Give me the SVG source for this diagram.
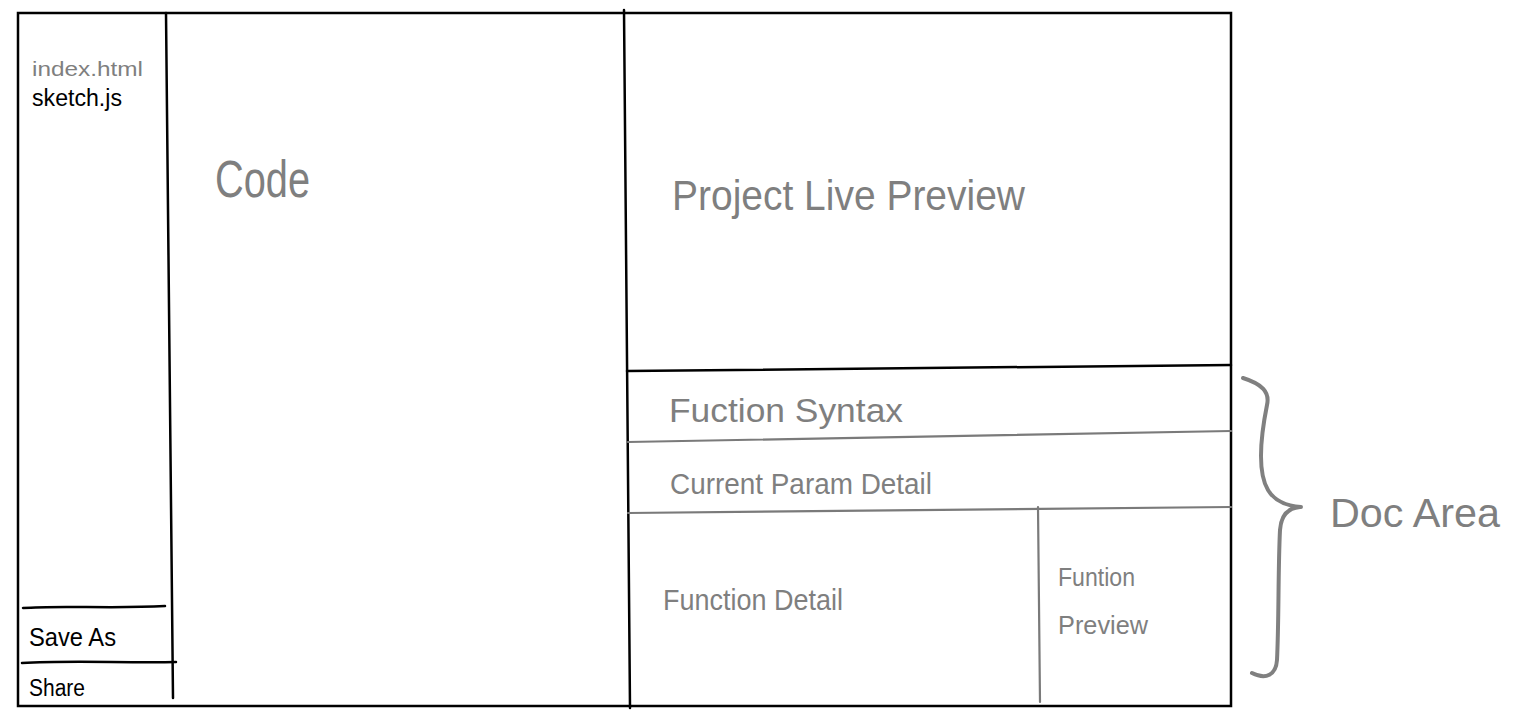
<svg xmlns="http://www.w3.org/2000/svg" width="1514" height="722" viewBox="0 0 1514 722">
<style>
.blk{stroke:#000;stroke-width:2.5;fill:none;stroke-linecap:round}
.gry{stroke:#7a7a7a;stroke-width:2.2;fill:none;stroke-linecap:round}
.brace{stroke:#808080;stroke-width:4;fill:none;stroke-linecap:round;stroke-linejoin:round}
text{font-family:"Liberation Sans","DejaVu Sans",sans-serif;fill:#7f7f7f}
.dark{fill:#000}
</style>
<rect width="1514" height="722" fill="#fff"/>
<g id="frame">
<rect x="18" y="13" width="1213" height="693" class="blk"/>
</g>
<g id="connectors">
<path class="blk" d="M166,13 L173,698"/>
<path class="blk" d="M624,10 L630,708"/>
<path class="blk" d="M627,371 L1231,365"/>
<path class="gry" d="M628,442 L1231,431"/>
<path class="gry" d="M628,513 L1231,507"/>
<path class="gry" d="M1038,507 L1040,702"/>
<path class="blk" d="M23,608 C60,605 110,609 165,606"/>
<path class="blk" d="M22,663 C70,660 120,663 176,662"/>
<path class="brace" d="M1243,378 C1262,384 1270,392 1267,405 C1262,430 1256,470 1268,490 C1274,500 1285,506 1301,507 M1300,507 C1288,508 1281,515 1280,530 C1278,570 1279,620 1277,660 C1276,675 1266,680 1252,673"/>
</g>
<g id="files">
<text x="32" y="76" font-size="21" textLength="111" lengthAdjust="spacingAndGlyphs">index.html</text>
<text x="32" y="106" font-size="23" class="dark" textLength="90" lengthAdjust="spacingAndGlyphs">sketch.js</text>
</g>
<g id="code">
<text x="215" y="197" font-size="52" textLength="95" lengthAdjust="spacingAndGlyphs">Code</text>
</g>
<g id="preview">
<text x="672" y="210" font-size="42" textLength="353" lengthAdjust="spacingAndGlyphs">Project Live Preview</text>
</g>
<g id="syntax">
<text x="669" y="422" font-size="33" textLength="234" lengthAdjust="spacingAndGlyphs">Fuction Syntax</text>
</g>
<g id="param">
<text x="670" y="494" font-size="29" textLength="262" lengthAdjust="spacingAndGlyphs">Current Param Detail</text>
</g>
<g id="detail">
<text x="663" y="610" font-size="30" textLength="180" lengthAdjust="spacingAndGlyphs">Function Detail</text>
</g>
<g id="fpreview">
<text x="1058" y="586" font-size="25" textLength="77" lengthAdjust="spacingAndGlyphs">Funtion</text>
<text x="1058" y="634" font-size="25" textLength="90" lengthAdjust="spacingAndGlyphs">Preview</text>
</g>
<g id="saveas">
<text x="29" y="646" font-size="25" class="dark" textLength="87" lengthAdjust="spacingAndGlyphs">Save As</text>
</g>
<g id="share">
<text x="29" y="696" font-size="23" class="dark" textLength="56" lengthAdjust="spacingAndGlyphs">Share</text>
</g>
<g id="docarea">
<text x="1330" y="527" font-size="40" textLength="170" lengthAdjust="spacingAndGlyphs">Doc Area</text>
</g>
</svg>
